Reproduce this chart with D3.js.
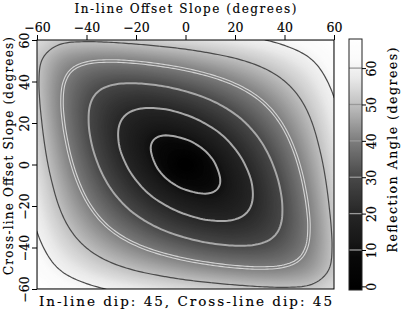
<!DOCTYPE html>
<html><head><meta charset="utf-8">
<script src="https://cdn.jsdelivr.net/npm/d3@7"></script>
<style>
body{margin:0;background:#fff}
svg{display:block}
text{font-family:"DejaVu Serif","Liberation Serif",serif;fill:#000;stroke:#000;stroke-width:0.15px}
</style>
</head><body>
<script>
// ---- data ----
const xSlopes = [-60,-50,-40,-30,-20,-10,0,10,20,30,40,50,60];   // in-line offset slope (deg), columns
const ySlopes = [60,50,40,30,20,10,0,-10,-20,-30,-40,-50,-60];   // cross-line offset slope (deg), rows (top to bottom)
const angleRows = [
  [54.7,51.4,50.8,51.3,52.3,53.4,54.7,56.2,57.7,59.5,61.7,64.3,67.8],
  [51.4,44.2,40.9,40.1,40.8,42.3,44.2,46.5,49.0,51.9,55.3,59.3,64.3],
  [50.8,40.9,34.4,31.3,30.8,32.0,34.4,37.5,41.1,45.2,49.9,55.3,61.7],
  [51.3,40.1,31.3,25.2,22.4,22.7,25.2,29.1,33.9,39.2,45.2,51.9,59.5],
  [52.3,40.8,30.8,22.4,16.6,14.4,16.6,21.3,27.2,33.9,41.1,49.0,57.7],
  [53.4,42.3,32.0,22.7,14.4, 8.2, 8.2,14.0,21.3,29.1,37.5,46.5,56.2],
  [54.7,44.2,34.4,25.2,16.6, 8.2, 0.0, 8.2,16.6,25.2,34.4,44.2,54.7],
  [56.2,46.5,37.5,29.1,21.3,14.0, 8.2, 8.2,14.4,22.7,32.0,42.3,53.4],
  [57.7,49.0,41.1,33.9,27.2,21.3,16.6,14.4,16.6,22.4,30.8,40.8,52.3],
  [59.5,51.9,45.2,39.2,33.9,29.1,25.2,22.7,22.4,25.2,31.3,40.1,51.3],
  [61.7,55.3,49.9,45.2,41.1,37.5,34.4,32.0,30.8,31.3,34.4,40.9,50.8],
  [64.3,59.3,55.3,51.9,49.0,46.5,44.2,42.3,40.8,40.1,40.9,44.2,51.4],
  [67.8,64.3,61.7,59.5,57.7,56.2,54.7,53.4,52.3,51.3,50.8,51.4,54.7]
];
const xTicks = [-60,-40,-20,0,20,40,60];
const yTicks = [-60,-40,-20,0,20,40,60];
const barTicks = [0,10,20,30,40,50,60];
const contourLevels = [10,20,30,40,50,60];
const barDomain = [-1,68];
const grayStops = [0,8,12,20,30,40,50,57,62,68];
const grayValues = [0,8,22,38,72,125,192,232,250,255];
const xTitle = "In-line Offset Slope (degrees)";
const yTitle = "Cross-line Offset Slope (degrees)";
const barTitle = "Reflection Angle (degrees)";
const bottomTitle = "In-line dip: 45, Cross-line dip: 45";

// ---- layout ----
const W = 403, H = 311;
const plot = {l:37, r:334, t:40, b:289};
const bar = {l:349, r:362, t:39, b:290};

const svg = d3.select("body").append("svg").attr("width",W).attr("height",H);

const x = d3.scaleLinear().domain([-60,60]).range([plot.l, plot.r]);
const y = d3.scaleLinear().domain([-60,60]).range([plot.b, plot.t]);
const grayScale = d3.scaleLinear().domain(grayStops).range(grayValues).clamp(true);
const color = v => { const g = Math.round(grayScale(v)); return `rgb(${g},${g},${g})`; };
const barY = d3.scaleLinear().domain(barDomain).range([bar.b, bar.t]);

// ---- smooth rendering grid (Catmull-Rom resampling of the read values) ----
const nR = angleRows.length, nC = angleRows[0].length;
function getV(r, c) {
  if (r < 0) return 2*getV(0,c) - getV(1,c);
  if (r >= nR) return 2*getV(nR-1,c) - getV(nR-2,c);
  if (c < 0) return 2*getV(r,0) - getV(r,1);
  if (c >= nC) return 2*getV(r,nC-1) - getV(r,nC-2);
  return angleRows[r][c];
}
function cr(p0,p1,p2,p3,t){ return 0.5*((2*p1)+(-p0+p2)*t+(2*p0-5*p1+4*p2-p3)*t*t+(-p0+3*p1-3*p2+p3)*t*t*t); }
function sample(fr, fc) {
  const r1 = Math.min(Math.floor(fr), nR-2), c1 = Math.min(Math.floor(fc), nC-2);
  const tr = fr - r1, tc = fc - c1;
  const rowsI = [];
  for (let k=-1;k<=2;k++) {
    const r = r1+k;
    rowsI.push(cr(getV(r,c1-1),getV(r,c1),getV(r,c1+1),getV(r,c1+2),tc));
  }
  return cr(rowsI[0],rowsI[1],rowsI[2],rowsI[3],tr);
}
const step = 1; // degrees per resampled cell
const N = Math.round(120/step)+1;
const dStep = xSlopes[1]-xSlopes[0];
const values = new Array(N*N);
for (let j=0;j<N;j++) for (let i=0;i<N;i++) {
  const xd = xSlopes[0] + i*step, yd = ySlopes[0] - j*step;
  values[j*N+i] = sample((ySlopes[0] - yd)/dStep, (xd - xSlopes[0])/dStep);
}
const proj = d3.geoTransform({point(px, py){
  this.stream.point(x(xSlopes[0] + (px-0.5)*step), y(ySlopes[0] - (py-0.5)*step));
}});
const path = d3.geoPath(proj);

svg.append("clipPath").attr("id","pc").append("rect")
  .attr("x",plot.l).attr("y",plot.t).attr("width",plot.r-plot.l).attr("height",plot.b-plot.t);
const gImg = svg.append("g").attr("clip-path","url(#pc)");
gImg.append("rect").attr("x",plot.l).attr("y",plot.t).attr("width",plot.r-plot.l).attr("height",plot.b-plot.t)
  .attr("fill",color(0));
const bandT = d3.range(0.5, 70, 0.5);
const bands = d3.contours().size([N,N]).thresholds(bandT)(values);
gImg.selectAll("path.band").data(bands).join("path").attr("class","band")
  .attr("d",path).attr("fill",d=>color(d.value+0.25)).attr("stroke",d=>color(d.value+0.25)).attr("stroke-width",0.3);

const lines = d3.contours().size([N,N]).thresholds(contourLevels)(values);
lines.forEach(c => {
  if (c.value <= 30) {
    gImg.append("path").attr("d",path(c)).attr("fill","none").attr("stroke","#a8a8a8").attr("stroke-width",2);
  } else if (c.value === 40) {
    gImg.append("path").attr("d",path(c)).attr("fill","none").attr("stroke","#d4d4d4").attr("stroke-width",3.6);
    gImg.append("path").attr("d",path(c)).attr("fill","none").attr("stroke",color(40)).attr("stroke-width",1.4);
  } else {
    gImg.append("path").attr("d",path(c)).attr("fill","none").attr("stroke","#4a4a4a").attr("stroke-width",1.2);
  }
});

svg.append("rect").attr("x",plot.l).attr("y",plot.t).attr("width",plot.r-plot.l).attr("height",plot.b-plot.t)
  .attr("fill","none").attr("stroke","#000").attr("stroke-width",1);

// ---- axes ----
const ax = svg.append("g").attr("transform",`translate(0,${plot.t})`)
  .call(d3.axisTop(x).tickValues(xTicks).tickSize(5).tickPadding(3));
ax.select(".domain").remove();
ax.attr("font-family",null);
ax.selectAll("text").style("font-size","12.5px");

const ay = svg.append("g").attr("transform",`translate(${plot.l},0)`)
  .call(d3.axisLeft(y).tickValues(yTicks).tickSize(5).tickPadding(3));
ay.select(".domain").remove();
ay.attr("font-family",null);
ay.selectAll("text").style("font-size","12.5px")
  .attr("transform","rotate(-90)").attr("x",0).attr("y",-8).attr("dy",null).attr("text-anchor","middle");

svg.append("text").attr("x",(plot.l+plot.r)/2).attr("y",13).attr("text-anchor","middle")
  .attr("textLength",222).attr("lengthAdjust","spacing")
  .style("font-size","12px").text(xTitle);
svg.append("text").attr("transform",`translate(13,156) rotate(-90)`).attr("text-anchor","middle")
  .attr("textLength",238).attr("lengthAdjust","spacing")
  .style("font-size","12px").text(yTitle);
svg.append("text").attr("x",(plot.l+plot.r)/2).attr("y",306).attr("text-anchor","middle")
  .attr("textLength",293).attr("lengthAdjust","spacing")
  .style("font-size","13.5px").text(bottomTitle);

// ---- colour bar ----
const defs = svg.append("defs");
const grad = defs.append("linearGradient").attr("id","cb").attr("x1",0).attr("y1",1).attr("x2",0).attr("y2",0);
d3.range(barDomain[0], barDomain[1]+0.01, 0.5).forEach(v => {
  grad.append("stop").attr("offset",(v-barDomain[0])/(barDomain[1]-barDomain[0])).attr("stop-color",color(v));
});
svg.append("rect").attr("x",bar.l).attr("y",bar.t).attr("width",bar.r-bar.l).attr("height",bar.b-bar.t)
  .attr("fill","url(#cb)");
svg.selectAll("line.lvl").data(contourLevels).join("line").attr("class","lvl")
  .attr("x1",bar.l).attr("x2",bar.r).attr("y1",d=>barY(d)).attr("y2",d=>barY(d))
  .attr("stroke","#999").attr("stroke-width",1.3);
svg.append("rect").attr("x",bar.l).attr("y",bar.t).attr("width",bar.r-bar.l).attr("height",bar.b-bar.t)
  .attr("fill","none").attr("stroke","#222").attr("stroke-width",1);
const ab = svg.append("g").attr("transform",`translate(${bar.r},0)`)
  .call(d3.axisRight(barY).tickValues(barTicks).tickSize(4).tickPadding(3));
ab.select(".domain").remove();
ab.attr("font-family",null);
ab.selectAll("text").style("font-size","12.5px")
  .attr("transform","rotate(-90)").attr("x",0).attr("y",14).attr("dy",null).attr("text-anchor","middle");
svg.append("text").attr("transform",`translate(397,150) rotate(-90)`).attr("text-anchor","middle")
  .attr("textLength",205).attr("lengthAdjust","spacing")
  .style("font-size","12.5px").text(barTitle);
</script>
</body></html>
